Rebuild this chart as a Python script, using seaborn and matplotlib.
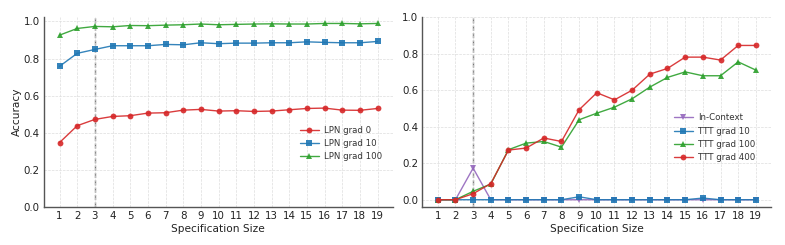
import matplotlib
matplotlib.use("Agg")
import matplotlib.pyplot as plt
import seaborn as sns
import pandas as pd
import numpy as np

spec = list(range(1, 20))

lpn_grad0 = [0.347, 0.438, 0.472, 0.488, 0.492, 0.506, 0.508, 0.522, 0.526, 0.517,
             0.519, 0.515, 0.517, 0.524, 0.531, 0.533, 0.522, 0.521, 0.531]
lpn_grad10 = [0.758, 0.828, 0.849, 0.869, 0.869, 0.869, 0.876, 0.874, 0.885, 0.880,
              0.883, 0.883, 0.885, 0.885, 0.890, 0.887, 0.885, 0.885, 0.892]
lpn_grad100 = [0.926, 0.962, 0.973, 0.971, 0.978, 0.977, 0.980, 0.982, 0.986, 0.982,
               0.984, 0.986, 0.987, 0.986, 0.986, 0.989, 0.989, 0.987, 0.989]

in_context = [0.0, 0.0, 0.173, 0.0, 0.0, 0.0, 0.0, 0.0, 0.0, 0.0,
              0.0, 0.0, 0.0, 0.0, 0.0, 0.0, 0.0, 0.0, 0.0]
ttt_grad10 = [0.0, 0.0, 0.0, 0.0, 0.0, 0.0, 0.0, 0.0, 0.016, 0.0,
              0.0, 0.0, 0.0, 0.0, 0.0, 0.009, 0.0, 0.0, 0.0]
ttt_grad100 = [0.0, 0.0, 0.046, 0.086, 0.274, 0.310, 0.319, 0.288, 0.438, 0.474,
               0.507, 0.553, 0.617, 0.670, 0.700, 0.679, 0.679, 0.755, 0.710]
ttt_grad400 = [0.0, 0.0, 0.033, 0.088, 0.272, 0.283, 0.338, 0.319, 0.493, 0.586,
               0.547, 0.600, 0.688, 0.719, 0.781, 0.781, 0.765, 0.845, 0.845]

left_series = {"LPN grad 0": lpn_grad0, "LPN grad 10": lpn_grad10, "LPN grad 100": lpn_grad100}
right_series = {"In-Context": in_context, "TTT grad 10": ttt_grad10,
                "TTT grad 100": ttt_grad100, "TTT grad 400": ttt_grad400}

colors = {"LPN grad 0": "#d62728", "LPN grad 10": "#1f77b4", "LPN grad 100": "#2ca02c",
          "In-Context": "#9467bd", "TTT grad 10": "#1f77b4", "TTT grad 100": "#2ca02c",
          "TTT grad 400": "#d62728"}
markers = {"LPN grad 0": "o", "LPN grad 10": "s", "LPN grad 100": "^",
           "In-Context": "v", "TTT grad 10": "s", "TTT grad 100": "^", "TTT grad 400": "o"}

sns.set_theme(style="whitegrid")
plt.rcParams['font.family'] = ['DejaVu Sans']

fig, axes = plt.subplots(1, 2, figsize=(7.85, 2.45), dpi=100)
fig.subplots_adjust(left=0.056, right=0.982, top=0.93, bottom=0.155, wspace=0.085)


def long(series):
    rows = []
    for name, vals in series.items():
        for s, v in zip(spec, vals):
            rows.append({"Specification Size": s, "Accuracy": v, "Method": name})
    return pd.DataFrame(rows)


for ax, series, ylim, lab, anchor in [
        (axes[0], left_series, (0, 1.023), "Accuracy", (0.985, 0.335)),
        (axes[1], right_series, (-0.04, 1.0), None, (0.97, 0.365))]:
    df = long(series)
    names = list(series.keys())
    sns.lineplot(data=df, x="Specification Size", y="Accuracy", hue="Method",
                 style="Method", hue_order=names, style_order=names,
                 palette={n: colors[n] for n in names},
                 markers={n: markers[n] for n in names},
                 dashes=False, markersize=4.2, markeredgewidth=0,
                 linewidth=1.0, alpha=0.9, ax=ax)
    ax.axvline(3, color="#777777", linestyle="--", linewidth=1.0, zorder=0)
    ax.set_xlim(0.12, 19.85)
    ax.set_ylim(*ylim)
    ax.set_xticks(spec)
    ax.set_yticks([0.0, 0.2, 0.4, 0.6, 0.8, 1.0])
    ax.set_yticklabels(["0.0", "0.2", "0.4", "0.6", "0.8", "1.0"])
    ax.grid(True, linestyle="--", linewidth=0.5, color="#dddddd")
    for sp in ["top", "right"]:
        ax.spines[sp].set_visible(False)
    for sp in ["left", "bottom"]:
        ax.spines[sp].set_color("#555555")
        ax.spines[sp].set_linewidth(1.0)
    ax.tick_params(axis="both", labelsize=7.4, colors="#222222", direction="in",
                   length=2.5, width=0.6, pad=3)
    ax.set_xlabel("Specification Size", fontsize=7.6, color="#222222", labelpad=2)
    if lab:
        ax.set_ylabel(lab, fontsize=7.6, color="#222222", labelpad=1.5)
    else:
        ax.set_ylabel("")
    leg = ax.legend(loc="center right", bbox_to_anchor=anchor, frameon=False,
                    fontsize=6.2, handlelength=2.2, handletextpad=0.6,
                    labelspacing=0.5, borderaxespad=0.2)
    for t in leg.get_texts():
        t.set_color("#333333")

fig.savefig("out.png", dpi=100)
